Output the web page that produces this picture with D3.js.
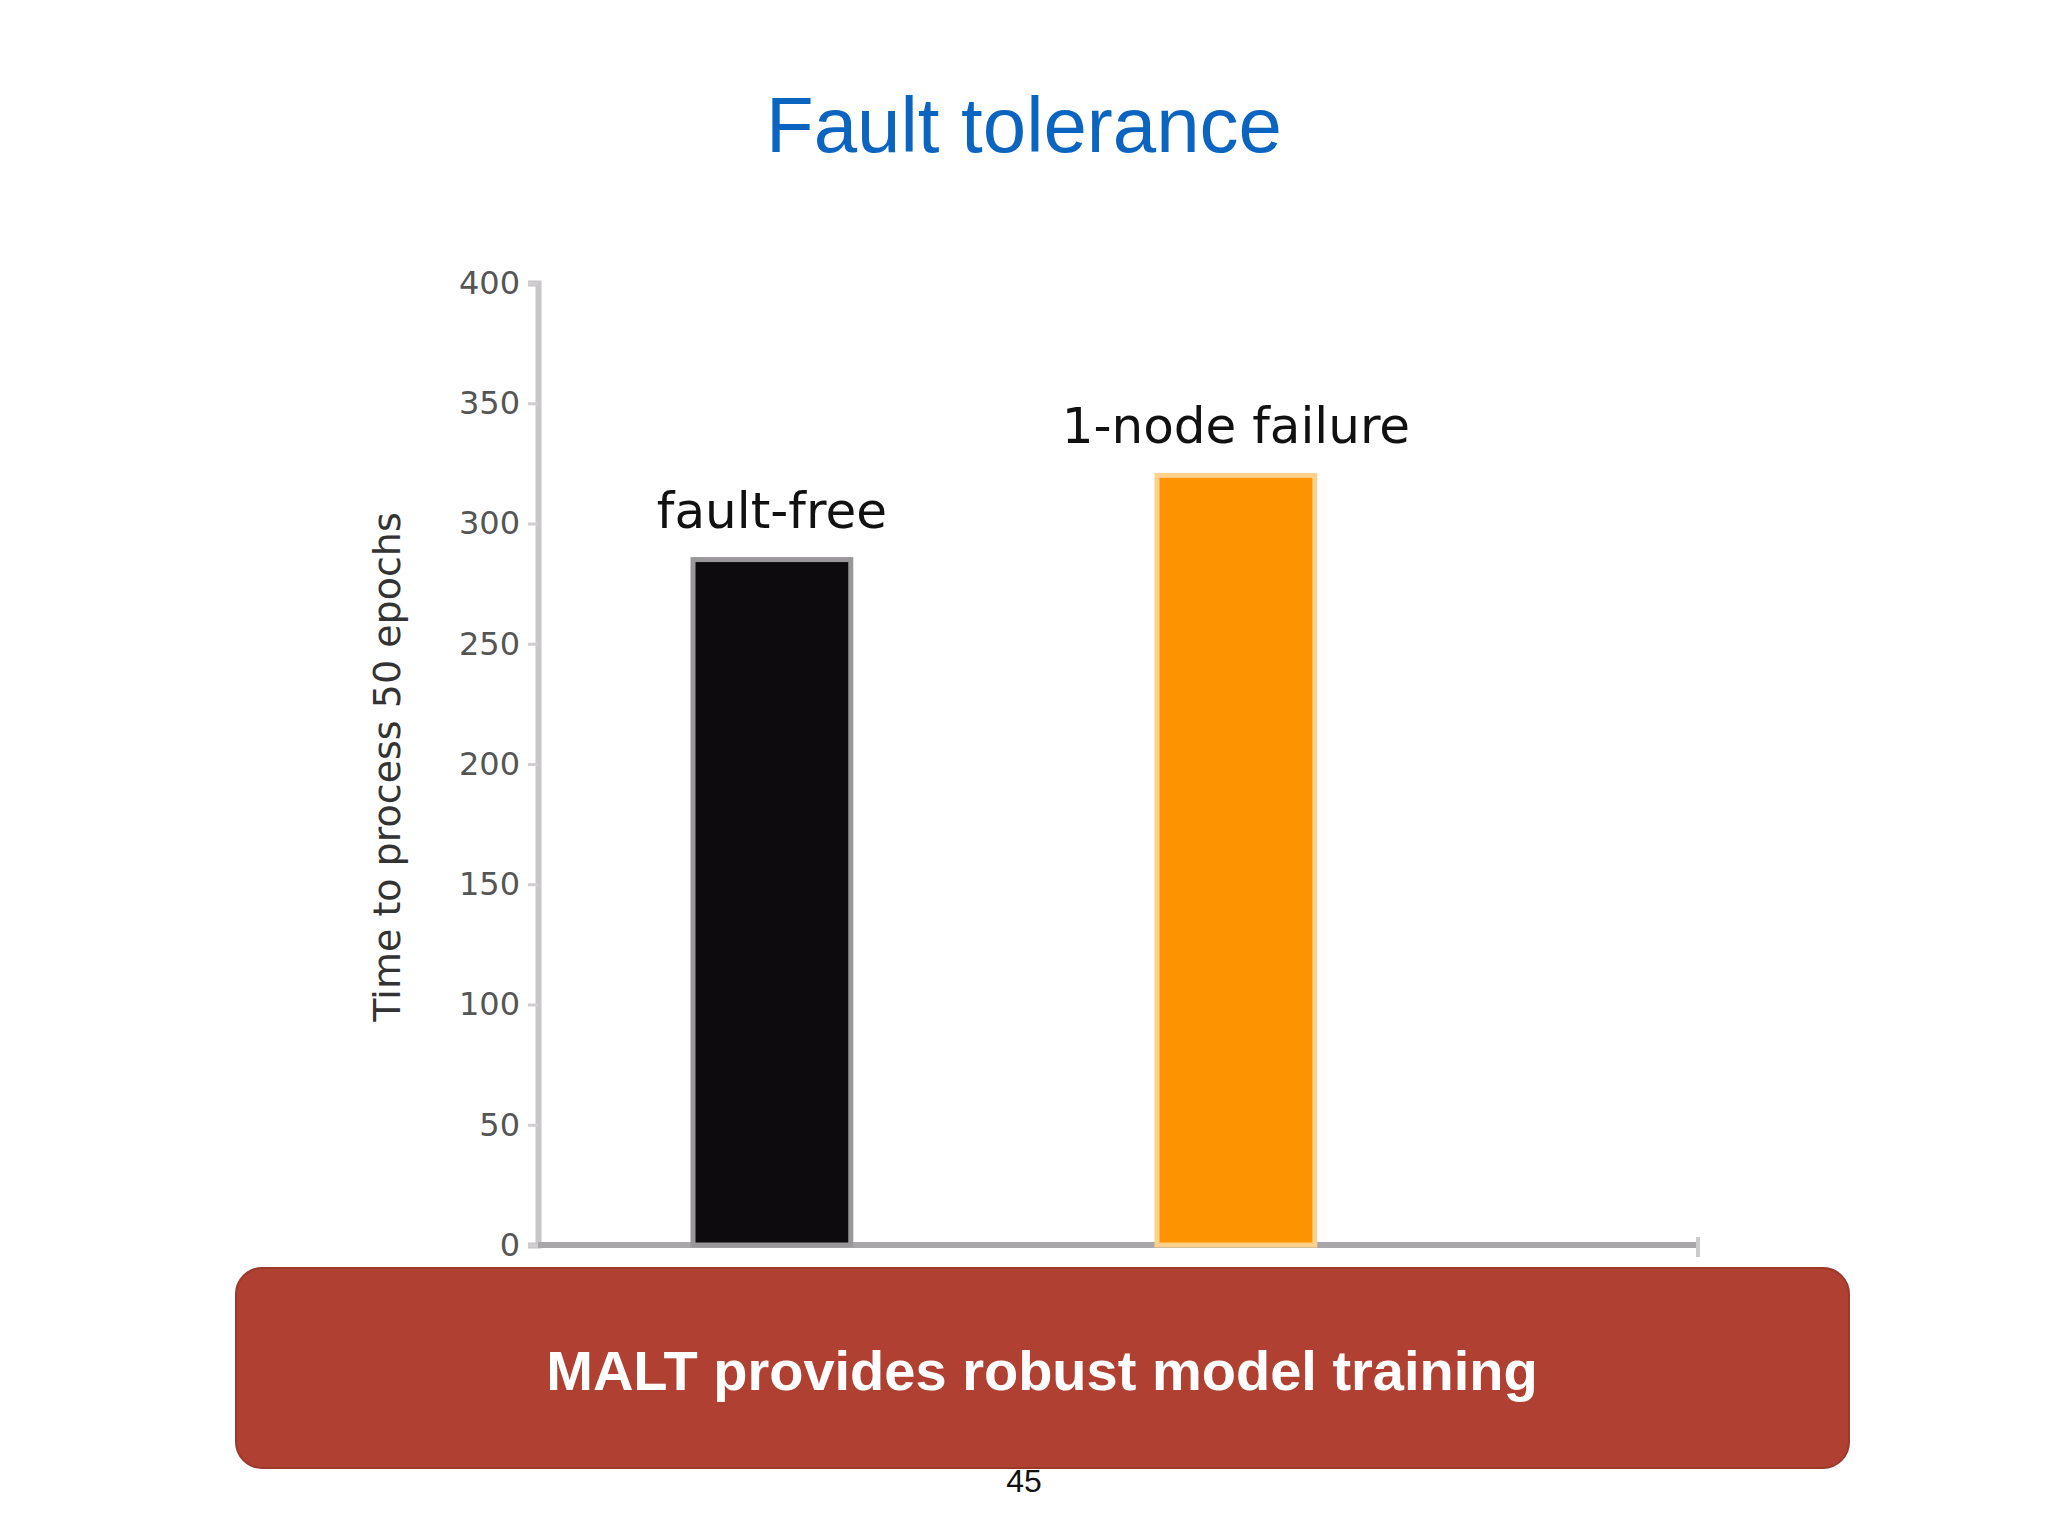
<!DOCTYPE html>
<html><head><meta charset="utf-8">
<script src="https://cdn.jsdelivr.net/npm/d3@7"></script>
<style>body{margin:0;background:#fff}</style></head>
<body><svg id="c" width="2048" height="1536"></svg>
<script>
const categories = ["fault-free", "1-node failure"];
const values = [285, 320];
const colors = ["#0d0b0e", "#fd9300"];
const strokes = ["#9a979a", "#fdd08c"];
const yTicks = [0, 50, 100, 150, 200, 250, 300, 350, 400];

const svg = d3.select("#c");
svg.append("text").attr("x", 1024).attr("y", 152).attr("text-anchor", "middle")
  .attr("font-family", "Liberation Sans, Arial").attr("font-size", 78).attr("fill", "#0a64c0")
  .text("Fault tolerance");

const x = d3.scaleBand().domain(categories).range([538, 1698]).paddingInner(0.66).paddingOuter(0.58).align(0.288);
const y = d3.scaleLinear().domain([0, 400]).range([1245, 283]);

const g = svg.append("g");
const ya = g.append("g").attr("transform", "translate(538,0)").call(d3.axisLeft(y).tickValues(yTicks).tickSize(10).tickPadding(8));
ya.select(".domain").attr("stroke", "#c8c6c8").attr("stroke-width", 6);
ya.selectAll(".tick line").attr("stroke", "#d0ced0").attr("stroke-width", 3);
ya.selectAll("text").attr("font-family", "DejaVu Sans").attr("font-size", 32).attr("fill", "#555");

g.append("line").attr("x1", 538).attr("x2", 1700).attr("y1", y(0)).attr("y2", y(0))
  .attr("stroke", "#a9a6a9").attr("stroke-width", 6);
g.append("line").attr("x1", 1698).attr("x2", 1698).attr("y1", y(0) - 8).attr("y2", y(0) + 12)
  .attr("stroke", "#ccc").attr("stroke-width", 4);

g.selectAll("rect.bar").data(categories).join("rect").attr("class", "bar")
  .attr("x", d => x(d)).attr("width", x.bandwidth())
  .attr("y", (d, i) => y(values[i])).attr("height", (d, i) => y(0) - y(values[i]))
  .attr("fill", (d, i) => colors[i]).attr("stroke", (d, i) => strokes[i]).attr("stroke-width", 5);

g.selectAll("text.lab").data(categories).join("text").attr("class", "lab")
  .attr("x", d => x(d) + x.bandwidth() / 2).attr("y", (d, i) => y(values[i]) - 32)
  .attr("text-anchor", "middle").attr("font-family", "DejaVu Sans").attr("font-size", 50).attr("fill", "#111")
  .text(d => d);

svg.append("text").attr("transform", "translate(400,767) rotate(-90)").attr("text-anchor", "middle")
  .attr("font-family", "DejaVu Sans").attr("font-size", 38).attr("fill", "#333")
  .text("Time to  process  50 epochs");

svg.append("rect").attr("x", 236).attr("y", 1268).attr("width", 1613).attr("height", 200).attr("rx", 26)
  .attr("fill", "#b04132").attr("stroke", "#9a3a2d").attr("stroke-width", 2);
svg.append("text").attr("x", 1042).attr("y", 1390).attr("text-anchor", "middle")
  .attr("font-family", "Liberation Sans, Arial").attr("font-weight", "bold").attr("font-size", 56).attr("fill", "#fff")
  .text("MALT provides robust model training");
svg.append("text").attr("x", 1024).attr("y", 1492).attr("text-anchor", "middle")
  .attr("font-family", "Liberation Sans, Arial").attr("font-size", 32).attr("fill", "#111").text("45");
</script></body></html>
